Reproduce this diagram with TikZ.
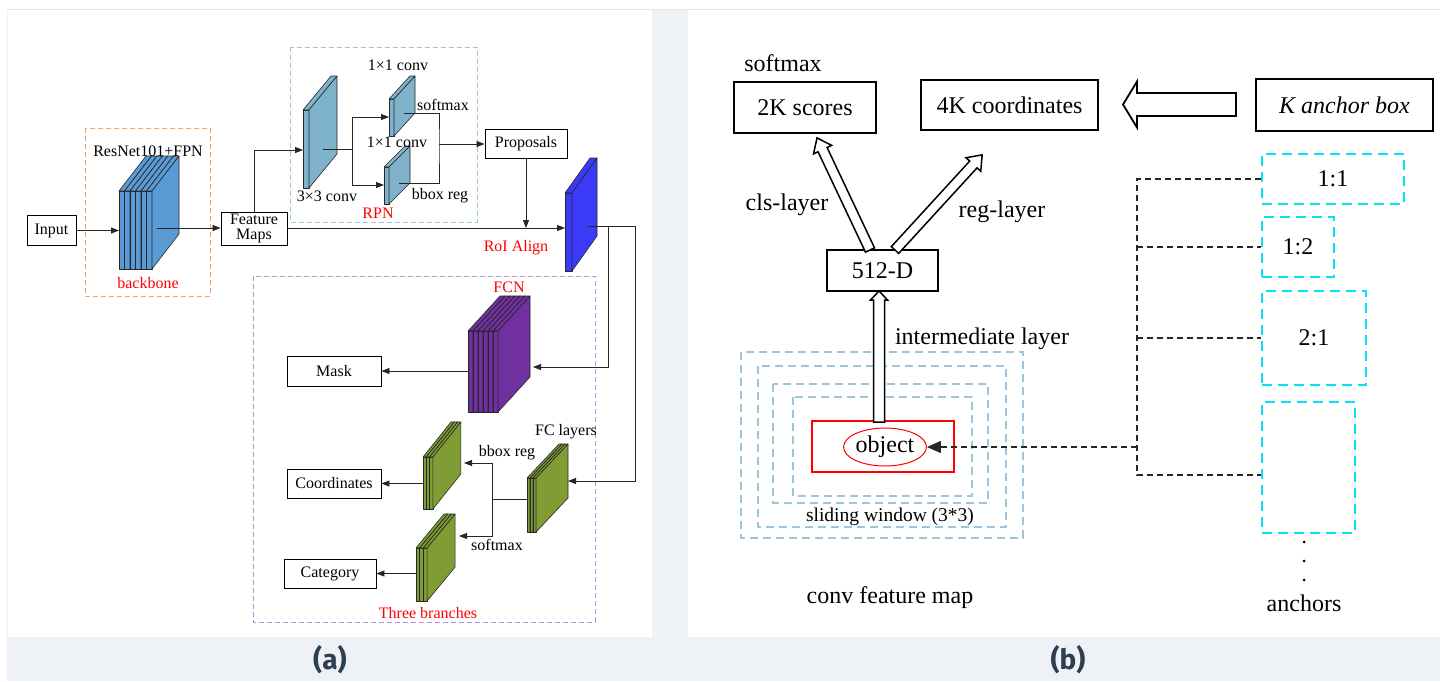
\documentclass[tikz,border=0pt]{standalone}
\usepackage{fontspec}
\setmainfont{Liberation Serif}
\newfontfamily\labfont{Fira Sans}
\usetikzlibrary{arrows.meta,shapes.geometric}
\definecolor{bgcol}{HTML}{EEF2F6}
\definecolor{bbblue}{HTML}{5B9BD5}
\definecolor{rpnc}{HTML}{7FB2CB}
\definecolor{roic}{HTML}{3B3BF7}
\definecolor{fcnc}{HTML}{7030A0}
\definecolor{olivec}{HTML}{809C34}
\definecolor{orangedash}{HTML}{F5A272}
\definecolor{bluedash}{HTML}{9EC6DA}
\definecolor{purpledash}{HTML}{B692DA}
\definecolor{cyandash}{HTML}{00E5F5}
\definecolor{labc}{HTML}{2C3E50}
\newcommand\fsa{\fontsize{16}{16}\selectfont}
\newcommand\fsb{\fontsize{24}{26}\selectfont}
\newcommand\platestack[8]{%
  \foreach \i in {0,...,#7}{
    \pgfmathsetmacro\xa{#1+\i*#3}
    \filldraw[fill=#8, draw=black!85, line width=0.6pt, line join=round] (\xa,#2) rectangle ++(#3,#4);
    \filldraw[fill=#8, draw=black!85, line width=0.6pt, line join=round] (\xa,#2) -- ++(#5,-#6) -- ++(#3,0) -- ++(-#5,#6) -- cycle;
    \filldraw[fill=#8, draw=black!85, line width=0.6pt, line join=round] (\xa+#3,#2) -- ++(#5,-#6) -- ++(0,#4) -- ++(-#5,#6) -- cycle;
  }}
\newcommand\hollowarr[8]{% x y angle L sw hw hl linewidth
  \begin{scope}[shift={(#1,#2)}, rotate=#3]
    \draw[line width=#8, fill=white, line join=miter] (0,-#5/2) -- (#4-#7,-#5/2) -- (#4-#7,-#6/2) -- (#4,0) -- (#4-#7,#6/2) -- (#4-#7,#5/2) -- (0,#5/2) -- cycle;
  \end{scope}}
\tikzset{
  box/.style={draw, line width=0.9pt, inner sep=0pt, font=\fsa},
  bboxb/.style={draw, line width=1.3pt, inner sep=0pt, font=\fsb},
  lbl/.style={inner sep=0pt, font=\fsa},
  lblb/.style={inner sep=0pt, font=\fsb},
  redlbl/.style={inner sep=0pt, font=\fsa, text=red},
  ln/.style={line width=0.8pt, draw=black!85},
  arr/.style={line width=0.8pt, draw=black!85, -{Triangle[length=8pt,width=6pt]}},
  grp/.style={dash pattern=on 5pt off 3pt, line width=1pt},
  blk/.style={dash pattern=on 6pt off 4pt, line width=1.3pt, draw=black!85},
  cyb/.style={draw=cyandash, dash pattern=on 10pt off 6pt, line width=1.6pt, inner sep=0pt, font=\fsb},
}
\begin{document}
\begin{tikzpicture}[x=1pt,y=-1pt]
\useasboundingbox (0,0) rectangle (1440,681);
% background and panels
\fill[bgcol] (7,9) rectangle (1440,681);
\fill[white] (8,10) rectangle (652,637);
\fill[white] (688,10) rectangle (1440,637);
\draw[black!10, line width=0.8pt] (7,9.5) -- (1440,9.5);

% ================= panel (a) =================
\draw[grp, draw=orangedash] (85,128) rectangle (210,296);
\draw[grp, draw=bluedash] (290,47) rectangle (477,222);
\draw[grp, draw=purpledash] (253,276) rectangle (595,622);

\node[box, minimum width=49, minimum height=30] (input) at (51.5,230.5) {Input};
\node[box, minimum width=66, minimum height=33, align=center, font=\fontsize{16}{15}\selectfont] (feat) at (254,228.5) {Feature\\Maps};
\node[box, minimum width=82, minimum height=29] (prop) at (526,144) {Proposals};
\node[box, minimum width=94, minimum height=30] (mask) at (334,371) {Mask};
\node[box, minimum width=94, minimum height=29] (coord) at (334,483.5) {Coordinates};
\node[box, minimum width=92, minimum height=29] (cat) at (330,573.5) {Category};

% stacks
\platestack{119}{191}{5.5}{78}{27}{35}{5}{bbblue}
\platestack{303}{110}{6}{78}{28}{34}{0}{rpnc}
\platestack{389}{99}{5}{37}{21}{23}{0}{rpnc}
\platestack{384}{167}{5}{37}{21}{21}{0}{rpnc}
\platestack{565}{193}{7}{78}{25}{35}{0}{roic}
\platestack{468}{331}{5}{81}{32}{35}{5}{fcnc}
\platestack{527}{478}{3}{54}{32}{34}{2}{olivec}
\platestack{423}{457}{3.3}{52}{28}{35}{2}{olivec}
\platestack{416}{548}{3.7}{53}{28}{34}{2}{olivec}

% named points on stacks
\coordinate (bbin) at (119,230.5);
\coordinate (bbout) at (157,228);
\coordinate (rpn3in) at (303,150);
\coordinate (rpn3out) at (323,149);
\coordinate (rpnsplit) at (352,149);
\coordinate (rpn1ain) at (389,117);
\coordinate (rpn1bin) at (384,185);
\coordinate (rpn1aout) at (404,113);
\coordinate (rpn1bout) at (399,183);
\coordinate (rpnmerge) at (439,144);
\coordinate (roiin) at (565,228);
\coordinate (roiout) at (588,226);
\coordinate (roicorner) at (635,226);
\coordinate (roitap) at (608,226);
\coordinate (fcnin) at (533,367);
\coordinate (fcnout) at (468,371);
\coordinate (fcin) at (568,481);
\coordinate (fcout) at (527,499);
\coordinate (fcsplit) at (492,499);
\coordinate (upin) at (464,463);
\coordinate (lowin) at (459,536);
\coordinate (upout) at (423,483.5);
\coordinate (lowout) at (416,573.5);

% connectors
\draw[arr] (input) -- (bbin);
\draw[arr] (bbout) -- (bbout -| feat.west);
\draw[arr] (feat.north) |- (rpn3in);
\draw[arr] (feat.east |- roiin) -- (roiin);
\draw[ln] (rpn3out) -- (rpnsplit);
\draw[arr] (rpnsplit) |- (rpn1ain);
\draw[arr] (rpnsplit) |- (rpn1bin);
\draw[ln] (rpn1aout) -| (rpnmerge) |- (rpn1bout);
\draw[arr] (rpnmerge) -- (prop.west);
\draw[arr] (prop.south) -- (prop.south |- roiin);
\draw[ln] (roiout) -- (roicorner);
\draw[arr] (roicorner) |- (fcin);
\draw[arr] (roitap) |- (fcnin);
\draw[arr] (fcnout) -- (fcnout -| mask.east);
\draw[ln] (fcout) -- (fcsplit);
\draw[arr] (fcsplit) |- (upin);
\draw[arr] (fcsplit) |- (lowin);
\draw[arr] (upout) -- (coord.east);
\draw[arr] (lowout) -- (cat.east);

% labels (a)
\node[lbl] (lresnet) at (148,151) {ResNet101+FPN};
\node[redlbl] (lbackbone) at (148,283) {backbone};
\node[lbl] (l33) at (327,196) {3×3 conv};
\node[lbl] (l11a) at (398,65) {1×1 conv};
\node[lbl] (l11b) at (397,142) {1×1 conv};
\node[lbl] (lsoft1) at (443,105) {softmax};
\node[lbl] (lbbox1) at (440,196) {bbox reg};
\node[redlbl] (lrpn) at (378,213) {RPN};
\node[redlbl] (lroi) at (516,248) {RoI Align};
\node[redlbl] (lfcn) at (509,287) {FCN};
\node[lbl] (lfc) at (566,432) {FC layers};
\node[lbl] (lbbox2) at (507,453) {bbox reg};
\node[lbl] (lsoft2) at (497,545) {softmax};
\node[redlbl] (lthree) at (428,613) {Three branches};

% ================= panel (b) =================
\node[lblb] (lsoftb) at (783,63) {softmax};
\node[bboxb, minimum width=142, minimum height=51] (scores) at (805,107.5) {2K scores};
\node[bboxb, minimum width=177, minimum height=50] (coords) at (1009.5,105) {4K coordinates};
\node[bboxb, minimum width=177, minimum height=52] (kbox) at (1344.5,105) {\itshape K anchor box};
\node[bboxb, minimum width=111, minimum height=41] (d512) at (882.5,270.5) {512-D};

% feature map windows
\draw[draw=bluedash, dash pattern=on 8pt off 5pt, line width=1.2pt] (741,352) rectangle (1023,538);
\draw[draw=bluedash, dash pattern=on 8pt off 5pt, line width=1.2pt] (758,366) rectangle (1006,527);
\draw[draw=bluedash, dash pattern=on 8pt off 5pt, line width=1.2pt] (773,384) rectangle (988,503);
\draw[draw=bluedash, dash pattern=on 8pt off 5pt, line width=1.2pt] (793,397) rectangle (972,496);
\node[draw=red, line width=1.6pt, fill=white, minimum width=142, minimum height=51, inner sep=0pt] (objrect) at (883,446.5) {};
\node[ellipse, draw=red, line width=1pt, minimum width=72, minimum height=38, inner sep=0pt, font=\fsb] (obj) at (885,447) {object};

\node[inner sep=0pt, font=\fontsize{19.5}{22}\selectfont] (lslide) at (890,517) {sliding window (3*3)};
\node[lblb] (lconv) at (890,598) {conv feature map};

% hollow arrows
\hollowarr{870}{250}{115.3}{124}{10}{20}{13}{1.5pt}
\hollowarr{895}{250}{47.5}{129}{10}{20}{13}{1.5pt}
\hollowarr{879}{422}{90}{131}{11}{17}{9}{1.5pt}
\hollowarr{1236}{104.5}{180}{113}{23}{46}{14}{1.8pt}
\node[lblb] (lcls) at (787,205) {cls-layer};
\node[lblb] (lreg) at (1002,212) {reg-layer};
\node[lblb] (linter) at (982,339) {intermediate layer};

% anchors
\node[cyb, minimum width=142, minimum height=50] (a11) at (1333,179) {1:1};
\node[cyb, minimum width=72, minimum height=60] (a12) at (1298,247) {1:2};
\node[cyb, minimum width=104, minimum height=94] (a21) at (1314,338) {2:1};
\node[cyb, minimum width=93, minimum height=131] (a4) at (1308.5,467.5) {};
\fill (1304,542) circle (1.5) (1304,561) circle (1.5) (1304,580) circle (1.5);
\node[lblb] (lanch) at (1304,603) {anchors};

\coordinate (vtop) at (1137,179);
\coordinate (vbot) at (1137,475);
\coordinate (vmid) at (1137,447);
\draw[blk] (a11.west) -- (vtop) -- (vbot) -- (vbot -| a4.west);
\draw[blk] (vtop |- a12.west) -- (a12.west);
\draw[blk] (vtop |- a21.west) -- (a21.west);
\draw[blk, -{Triangle[length=14pt,width=12pt]}] (vmid) -- (obj.east);

% panel captions
\node[inner sep=0pt, font=\labfont\bfseries\fontsize{28}{30}\selectfont, text=labc] (capa) at (330,660) {(a)};
\node[inner sep=0pt, font=\labfont\bfseries\fontsize{28}{30}\selectfont, text=labc] (capb) at (1068,660) {(b)};
\end{tikzpicture}
\end{document}
